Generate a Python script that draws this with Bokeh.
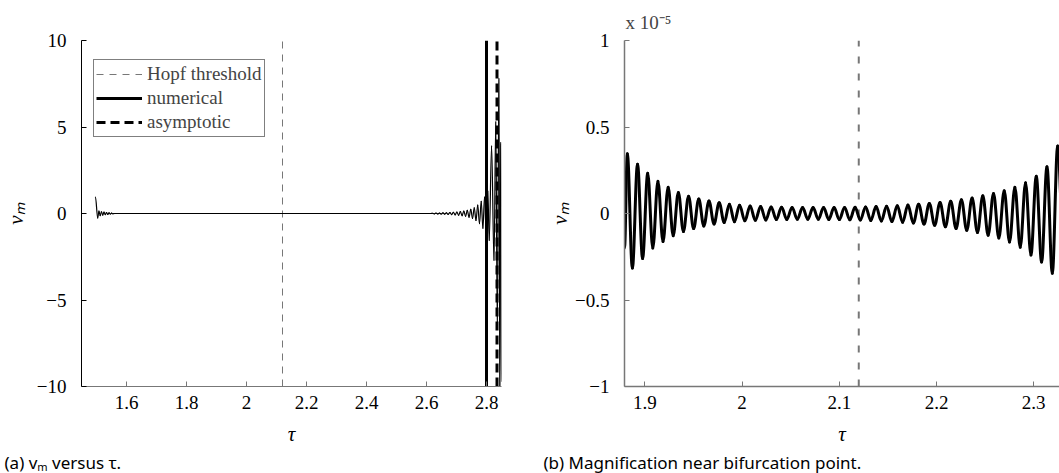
import numpy as np
from bokeh.plotting import figure
from bokeh.models import Range1d, FixedTicker, Legend, LegendItem, Title, ColumnDataSource
from bokeh.layouts import row
from bokeh.embed import file_html
from bokeh.resources import INLINE

# ---------------- data ----------------
# (a) full trajectory v_m(tau): turning points of the numerical solution
tau_full = [1.4965, 1.5040, 1.5082, 1.5124, 1.5166, 1.5208, 1.5250, 1.5292, 1.5334, 1.5376,
            1.5418, 1.5460, 1.5502, 1.5544, 1.5600, 2.6142,
            2.6200, 2.6258, 2.6316, 2.6374, 2.6432, 2.6490, 2.6548, 2.6606, 2.6664, 2.6722,
            2.6780, 2.6838, 2.6896, 2.6954, 2.7012, 2.7070, 2.7128, 2.7186, 2.7244, 2.7302,
            2.7360, 2.7418, 2.7476, 2.7534, 2.7592, 2.7650, 2.7708, 2.7766, 2.7824, 2.7880,
            2.7935, 2.7990, 2.8045, 2.8090, 2.8170, 2.8250, 2.8310, 2.8360, 2.8415, 2.8445,
            2.8475, 2.8495]
vm_full = [0.95, -0.26, 0.14, -0.12, 0.10, -0.09, 0.075, -0.065, 0.055, -0.045,
           0.035, -0.03, 0.02, -0.015, 0.0, 0.0,
           0.015, -0.017, 0.019, -0.022, 0.025, -0.028, 0.032, -0.036, 0.04, -0.046,
           0.052, -0.06, 0.068, -0.077, 0.087, -0.098, 0.11, -0.125, 0.14, -0.16,
           0.18, -0.21, 0.24, -0.28, 0.33, -0.4, 0.48, -0.58, 0.7, -0.85,
           0.95, -1.1, 1.3, -1.55, 3.9, -2.7, 5.3, -6.5, 7.8, -10.5,
           4.1, -9.7]

# (b) magnification: turning points, values in units of 1e-5
tau_zoom = [1.8790, 1.8819, 1.8871, 1.8924, 1.8976, 1.9029, 1.9081, 1.9134, 1.9186, 1.9239,
            1.9291, 1.9344, 1.9396, 1.9449, 1.9501, 1.9554, 1.9606, 1.9659, 1.9711, 1.9764,
            1.9816, 1.9869, 1.9921, 1.9974, 2.0028, 2.0082, 2.0136, 2.0190, 2.0244, 2.0298,
            2.0352, 2.0406, 2.0460, 2.0514, 2.0568, 2.0622, 2.0676, 2.0730, 2.0784, 2.0838,
            2.0892, 2.0946, 2.1000, 2.1054, 2.1108, 2.1162, 2.1216, 2.1270, 2.1324, 2.1378,
            2.1432, 2.1486, 2.1541, 2.1596, 2.1651, 2.1706, 2.1761, 2.1816, 2.1871, 2.1926,
            2.1981, 2.2036, 2.2091, 2.2146, 2.2201, 2.2256, 2.2311, 2.2366, 2.2421, 2.2476,
            2.2531, 2.2586, 2.2641, 2.2696, 2.2751, 2.2806, 2.2861, 2.2916, 2.2971, 2.3026,
            2.3081, 2.3136, 2.3191, 2.3246, 2.3300]
vm_zoom_e5 = [-0.20, 0.345, -0.315, 0.285, -0.26, 0.232, -0.20, 0.187, -0.162, 0.152,
              -0.128, 0.122, -0.104, 0.10, -0.087, 0.084, -0.072, 0.072, -0.06, 0.062,
              -0.052, 0.054, -0.047, 0.048, -0.042, 0.044, -0.039, 0.040, -0.037, 0.038,
              -0.035, 0.036, -0.034, 0.035, -0.033, 0.034, -0.033, 0.034, -0.033, 0.034,
              -0.034, 0.034, -0.035, 0.035, -0.036, 0.036, -0.038, 0.038, -0.040, 0.040,
              -0.043, 0.042, -0.046, 0.045, -0.050, 0.049, -0.055, 0.053, -0.061, 0.058,
              -0.068, 0.064, -0.076, 0.071, -0.086, 0.080, -0.097, 0.090, -0.11, 0.102,
              -0.125, 0.116, -0.142, 0.132, -0.165, 0.152, -0.195, 0.178, -0.24, 0.215,
              -0.28, 0.27, -0.345, 0.39, -0.10]

hopf_tau = 2.12
tau_blowup_numerical = 2.80
tau_blowup_asymptotic = 2.835

xlim_a = [1.45, 2.85]
ylim_a = [-10, 10]
xlim_b = [1.879, 2.3265]
ylim_b = [-1, 1]

xticks_a = [1.6, 1.8, 2, 2.2, 2.4, 2.6, 2.8]
xtick_labels_a = ["1.6", "1.8", "2", "2.2", "2.4", "2.6", "2.8"]
yticks_a = [-10, -5, 0, 5, 10]
ytick_labels_a = ["\u221210", "\u22125", "0", "5", "10"]
xticks_b = [1.9, 2, 2.1, 2.2, 2.3]
xtick_labels_b = ["1.9", "2", "2.1", "2.2", "2.3"]
yticks_b = [-1, -0.5, 0, 0.5, 1]
ytick_labels_b = ["\u22121", "\u22120.5", "0", "0.5", "1"]

legend_labels = ["Hopf threshold", "numerical", "asymptotic"]
x_label = "\u03c4"
y_label = "v\u2098"
caption_a = "(a) v\u2098 versus \u03c4."
caption_b = "(b) Magnification near bifurcation point."
y_multiplier_b = "x 10\u207b\u2075"

SERIF = "Liberation Serif"
SANS = "Noto Sans"


def bezier_source(xs, ys, k=0.363):
    x = np.asarray(xs, float)
    y = np.asarray(ys, float)
    dx = np.diff(x)
    return ColumnDataSource(dict(x0=x[:-1], y0=y[:-1], x1=x[1:], y1=y[1:],
                                 cx0=x[:-1] + k * dx, cy0=y[:-1],
                                 cx1=x[1:] - k * dx, cy1=y[1:]))


def style(p, xt, xl, yt, yl, ycol, xcol, axw, ylab_standoff):
    p.outline_line_color = None
    p.grid.visible = False
    p.background_fill_color = "white"
    p.border_fill_color = "white"
    for ax, ticks, labels, col, st in ((p.xaxis[0], xt, xl, xcol, 9), (p.yaxis[0], yt, yl, ycol, 15)):
        ax.ticker = FixedTicker(ticks=ticks)
        ax.major_label_overrides = dict(zip(ticks, labels))
        ax.major_tick_in = 5
        ax.major_tick_out = 0
        ax.minor_tick_line_color = None
        ax.axis_line_color = col
        ax.axis_line_width = axw
        ax.major_tick_line_color = col
        ax.major_label_text_font = SERIF
        ax.major_label_text_font_size = "19px"
        ax.major_label_text_color = "black"
        ax.major_label_standoff = st
        ax.axis_label_text_font = SERIF
        ax.axis_label_text_font_size = "21px"
        ax.axis_label_text_font_style = "italic"
        ax.axis_label_text_color = "black"
    p.xaxis.axis_label = x_label
    p.xaxis.axis_label_standoff = 10
    p.yaxis.axis_label = y_label
    p.yaxis.axis_label_standoff = ylab_standoff


def caption(p, text, offset):
    p.add_layout(Title(text=text, align="left", offset=offset, standoff=0,
                       text_font=SANS, text_font_size="17px", text_font_style="normal",
                       text_color="black"), "below")


# ---------------- panel (a) ----------------
p1 = figure(width=530, height=473, x_range=Range1d(*xlim_a), y_range=Range1d(*ylim_a),
            output_backend="svg", toolbar_location=None,
            min_border_left=78, min_border_right=29, min_border_top=33, min_border_bottom=86)
style(p1, xticks_a, xtick_labels_a, yticks_a, ytick_labels_a, "black", "#777777", 1, 6)

r_hopf_a = p1.segment(x0=[hopf_tau], y0=[ylim_a[0]], x1=[hopf_tau], y1=[ylim_a[1]],
                      line_color="#777777", line_width=1, line_dash="7 6")
p1.bezier(x0="x0", y0="y0", x1="x1", y1="y1", cx0="cx0", cy0="cy0", cx1="cx1", cy1="cy1",
          source=bezier_source(tau_full, vm_full), line_color="black", line_width=1.2,
          line_cap="round")
r_num = p1.segment(x0=[tau_blowup_numerical], y0=[ylim_a[0]], x1=[tau_blowup_numerical],
                   y1=[ylim_a[1]], line_color="black", line_width=3)
r_asy = p1.segment(x0=[tau_blowup_asymptotic], y0=[ylim_a[0]], x1=[tau_blowup_asymptotic],
                   y1=[ylim_a[1]], line_color="black", line_width=3, line_dash="9 5")

legend = Legend(items=[LegendItem(label=legend_labels[0], renderers=[r_hopf_a]),
                       LegendItem(label=legend_labels[1], renderers=[r_num]),
                       LegendItem(label=legend_labels[2], renderers=[r_asy])],
                location=(12, 249), border_line_color="black", border_line_width=1,
                background_fill_color="white", background_fill_alpha=1.0,
                padding=2, spacing=0, margin=0, glyph_width=46, glyph_height=24,
                label_height=24, label_standoff=5, label_text_font=SERIF,
                label_text_font_size="19px")
p1.add_layout(legend)
caption(p1, caption_a, -77)

# ---------------- panel (b) ----------------
p2 = figure(width=529, height=473, x_range=Range1d(*xlim_b), y_range=Range1d(*ylim_b),
            output_backend="svg", toolbar_location=None,
            min_border_left=94, min_border_right=0, min_border_top=40, min_border_bottom=86)
style(p2, xticks_b, xtick_labels_b, yticks_b, ytick_labels_b, "#777777", "#777777", 1.5, 0)
p2.title.text = y_multiplier_b
p2.title.align = "left"
p2.title.vertical_align = "middle"
p2.title.offset = 1
p2.title.standoff = 13
p2.title.text_font = SERIF
p2.title.text_font_size = "19px"
p2.title.text_font_style = "normal"

p2.segment(x0=[hopf_tau], y0=[ylim_b[0]], x1=[hopf_tau], y1=[ylim_b[1]],
           line_color="#777777", line_width=2, line_dash="7 10")
p2.bezier(x0="x0", y0="y0", x1="x1", y1="y1", cx0="cx0", cy0="cy0", cx1="cx1", cy1="cy1",
          source=bezier_source(tau_zoom, vm_zoom_e5), line_color="black", line_width=3,
          line_cap="round")
caption(p2, caption_b, -81)

layout = row(p1, p2)
open("out.html", "w").write(file_html(layout, INLINE))
